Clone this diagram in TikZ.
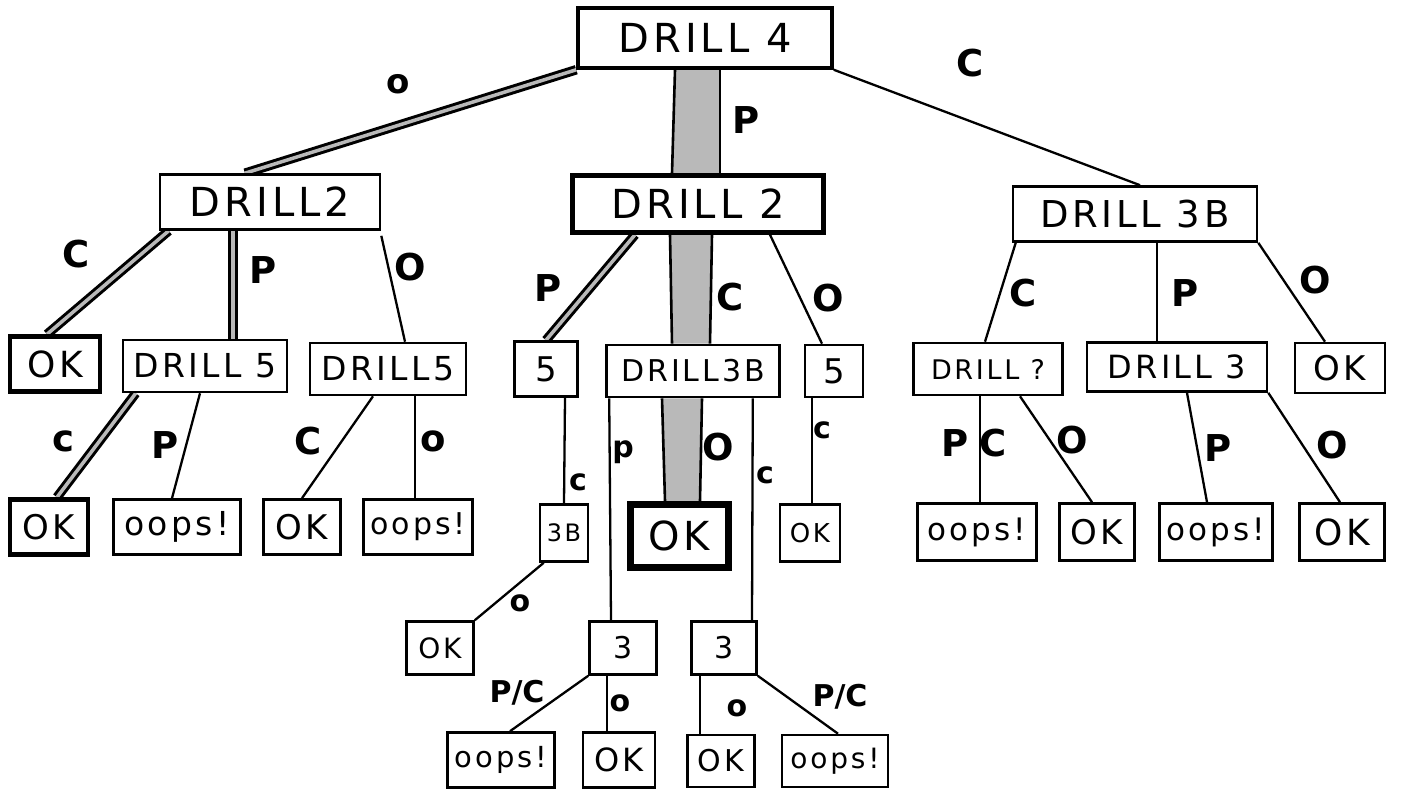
\documentclass[tikz,border=0pt]{standalone}
\usepackage{fontspec}
\newfontfamily\hand[LetterSpace=10]{DejaVu Sans}
\newfontfamily\handlab{DejaVu Sans Bold}
\usetikzlibrary{calc}
\pgfdeclarelayer{bg}
\pgfsetlayers{bg,main}

\newcommand{\fs}[1]{\fontsize{#1}{#1}\selectfont}

\begin{document}
\begin{tikzpicture}[x=1pt,y=-1pt,
  box/.style={draw, fill=white, line width=2.6pt, inner sep=0pt, font=\hand\fs{34}},
  heavy/.style={line width=4.5pt},
  lab/.style={inner sep=0pt, font=\handlab\fs{37}},
  slab/.style={inner sep=0pt, font=\handlab\fs{30}},
  thin/.style={line width=2.3pt},
  trail/.style={line width=3pt, double=gray!55, double distance=3.5pt},
  band/.style={fill=gray!55},
  bandedge/.style={line width=2.6pt},
]
\useasboundingbox (0,0) rectangle (1403,792);

% root
\node[box, line width=3.5pt, minimum width=254pt, minimum height=60pt, font=\hand\fs{40}] (d4) at (705,38) {DRILL 4};

% first level
\node[box, minimum width=220pt, minimum height=55pt, font=\hand\fs{40}] (d2l) at (270,202) {DRILL2};
\node[box, heavy, minimum width=251pt, minimum height=57pt, font=\hand\fs{40}] (d2c) at (698,204) {DRILL 2};
\node[box, minimum width=244pt, minimum height=55pt, font=\hand\fs{37}] (d3r) at (1135,214) {DRILL 3B};

% second level
\node[box, heavy, minimum width=90pt, minimum height=55pt, font=\hand\fs{36}] (ok1) at (55,364) {OK};
\node[box, minimum width=164pt, minimum height=52pt, font=\hand\fs{33}] (dr5a) at (205,366) {DRILL 5};
\node[box, minimum width=156pt, minimum height=52pt, font=\hand\fs{33}] (dr5b) at (388,369) {DRILL5};
\node[box, minimum width=63pt, minimum height=55pt] (five1) at (546,369) {5};
\node[box, minimum width=173pt, minimum height=52pt, font=\hand\fs{30}] (d3c) at (693,371) {DRILL3B};
\node[box, minimum width=58pt, minimum height=52pt] (five2) at (834,371) {5};
\node[box, minimum width=149pt, minimum height=52pt, font=\hand\fs{27}] (dq) at (988,369) {DRILL ?};
\node[box, minimum width=180pt, minimum height=49pt, font=\hand\fs{32}] (dr3) at (1177,367) {DRILL 3};
\node[box, minimum width=90pt, minimum height=50pt] (ok4) at (1340,368) {OK};

% third level
\node[box, heavy, minimum width=78pt, minimum height=55pt] (ok2) at (49,527) {OK};
\node[box, minimum width=127pt, minimum height=55pt, font=\hand\fs{33}] (oops1) at (177,527) {oops!};
\node[box, minimum width=77pt, minimum height=55pt] (ok3) at (302,527) {OK};
\node[box, minimum width=109pt, minimum height=55pt, font=\hand\fs{30}] (oops2) at (418,527) {oops!};
\node[box, minimum width=48pt, minimum height=57pt, font=\hand\fs{24}] (b3) at (564,533) {3B};
\node[box, line width=7pt, minimum width=98pt, minimum height=63pt, font=\hand\fs{40}] (okc) at (679,536) {OK};
\node[box, minimum width=60pt, minimum height=57pt, font=\hand\fs{26}] (ok5) at (810,533) {OK};
\node[box, minimum width=119pt, minimum height=57pt, font=\hand\fs{31}] (oops5) at (977,532) {oops!};
\node[box, minimum width=75pt, minimum height=57pt] (ok9) at (1097,532) {OK};
\node[box, minimum width=113pt, minimum height=57pt, font=\hand\fs{31}] (oops6) at (1216,532) {oops!};
\node[box, minimum width=85pt, minimum height=57pt, font=\hand\fs{36}] (ok10) at (1342,532) {OK};

% fourth level
\node[box, minimum width=67pt, minimum height=53pt, font=\hand\fs{28}] (ok6) at (440,648) {OK};
\node[box, minimum width=67pt, minimum height=53pt, font=\hand\fs{30}] (t3a) at (623,648) {3};
\node[box, minimum width=65pt, minimum height=53pt, font=\hand\fs{30}] (t3b) at (724,648) {3};

% fifth level
\node[box, minimum width=107pt, minimum height=55pt, font=\hand\fs{29}] (oops3) at (501,760) {oops!};
\node[box, minimum width=72pt, minimum height=55pt, font=\hand\fs{32}] (ok7) at (619,760) {OK};
\node[box, minimum width=67pt, minimum height=52pt, font=\hand\fs{30}] (ok8) at (721,761) {OK};
\node[box, minimum width=106pt, minimum height=52pt, font=\hand\fs{28}] (oops4) at (835,761) {oops!};

% branch labels
\node[lab, font=\handlab\fs{34}] (l1) at (398,84) {o};
\node[lab] (l2) at (746,120) {P};
\node[lab] (l3) at (970,63) {C};
\node[lab] (l4) at (76,254) {C};
\node[lab] (l5) at (263,270) {P};
\node[lab] (l6) at (410,267) {O};
\node[lab] (l7) at (63,441) {c};
\node[lab] (l8) at (165,445) {P};
\node[lab] (l9) at (308,441) {C};
\node[lab] (l10) at (433,441) {o};
\node[lab] (l11) at (548,288) {P};
\node[lab] (l12) at (730,297) {C};
\node[lab] (l13) at (828,298) {O};
\node[slab] (l14) at (578,482) {c};
\node[slab] (l15) at (623,452) {p};
\node[lab] (l16) at (718,447) {O};
\node[slab] (l17) at (765,475) {c};
\node[slab] (l18) at (822,430) {c};
\node[slab] (l19) at (520,603) {o};
\node[slab] (l20) at (517,693) {P/C};
\node[slab] (l21) at (620,703) {o};
\node[slab] (l22) at (737,708) {o};
\node[slab] (l23) at (840,697) {P/C};
\node[lab] (l24) at (1023,293) {C};
\node[lab] (l25) at (1185,293) {P};
\node[lab] (l26) at (1315,280) {O};
\node[lab] (l27) at (955,443) {P};
\node[lab] (l28) at (993,443) {C};
\node[lab] (l29) at (1072,440) {O};
\node[lab] (l30) at (1218,448) {P};
\node[lab] (l31) at (1332,445) {O};

\begin{pgfonlayer}{bg}
  \fill[white] (0,0) rectangle (1403,792);

  % wide shaded bands along the main path
  \fill[band] ([xshift=-30pt]d4.south) -- ([xshift=15pt]d4.south) -- ([xshift=22pt]d2c.north) -- ([xshift=-26pt]d2c.north) -- cycle;
  \draw[bandedge] ([xshift=-30pt]d4.south) -- ([xshift=-26pt]d2c.north);
  \draw[bandedge] ([xshift=15pt]d4.south) -- ([xshift=22pt]d2c.north);

  \fill[band] ([xshift=-28pt]d2c.south) -- ([xshift=14pt]d2c.south) -- ([xshift=17pt]d3c.north) -- ([xshift=-21pt]d3c.north) -- cycle;
  \draw[bandedge] ([xshift=-28pt]d2c.south) -- ([xshift=-21pt]d3c.north);
  \draw[bandedge] ([xshift=14pt]d2c.south) -- ([xshift=17pt]d3c.north);

  \fill[band] ([xshift=-31pt]d3c.south) -- ([xshift=9pt]d3c.south) -- ([xshift=21pt]okc.north) -- ([xshift=-14pt]okc.north) -- cycle;
  \draw[bandedge] ([xshift=-31pt]d3c.south) -- ([xshift=-14pt]okc.north);
  \draw[bandedge] ([xshift=9pt]d3c.south) -- ([xshift=21pt]okc.north);

  % doubled trails
  \draw[trail] (d4.south west) -- ([xshift=-25pt]d2l.north);
  \draw[trail] ([xshift=10pt]d2l.south west) -- ([xshift=-8pt]ok1.north);
  \draw[trail] ([xshift=-37pt]d2l.south) -- ([xshift=28pt]dr5a.north);
  \draw[trail] ([xshift=14pt]dr5a.south west) -- ([xshift=8pt]ok2.north);
  \draw[trail] ([xshift=-63pt]d2c.south) -- (five1.north);

  % plain branches
  \draw[thin] (d4.south east) -- ([xshift=5pt]d3r.north);
  \draw[thin] ([yshift=-5pt]d2l.south east) -- ([xshift=17pt]dr5b.north);
  \draw[thin] ([xshift=-5pt]dr5a.south) -- ([xshift=-5pt]oops1.north);
  \draw[thin] ([xshift=-15pt]dr5b.south) -- (ok3.north);
  \draw[thin] ([xshift=27pt]dr5b.south) -- ([xshift=-3pt]oops2.north);
  \draw[thin] ([xshift=72pt]d2c.south) -- ([xshift=-12pt]five2.north);
  \draw[thin] ([xshift=19pt]five1.south) -- (b3.north);
  \draw[thin] ([xshift=4pt]d3c.south west) -- ([xshift=-12pt]t3a.north);
  \draw[thin] ([xshift=-28pt]d3c.south east) -- ([xshift=28pt]t3b.north);
  \draw[thin] ([xshift=-22pt]five2.south) -- ([xshift=2pt]ok5.north);
  \draw[thin] ([xshift=5pt]b3.south west) -- (ok6.north east);
  \draw[thin] (t3a.south west) -- ([xshift=9pt]oops3.north);
  \draw[thin] ([xshift=-16pt]t3a.south) -- ([xshift=-12pt]ok7.north);
  \draw[thin] ([xshift=-24pt]t3b.south) -- ([xshift=-21pt]ok8.north);
  \draw[thin] (t3b.south east) -- ([xshift=3pt]oops4.north);
  \draw[thin] ([xshift=4pt]d3r.south west) -- ([xshift=-3pt]dq.north);
  \draw[thin] ([xshift=22pt]d3r.south) -- ([xshift=-20pt]dr3.north);
  \draw[thin] (d3r.south east) -- ([xshift=-15pt]ok4.north);
  \draw[thin] ([xshift=-8pt]dq.south) -- ([xshift=3pt]oops5.north);
  \draw[thin] ([xshift=32pt]dq.south) -- ([xshift=-5pt]ok9.north);
  \draw[thin] ([xshift=10pt]dr3.south) -- ([xshift=-9pt]oops6.north);
  \draw[thin] (dr3.south east) -- ([xshift=-2pt]ok10.north);
\end{pgfonlayer}
\end{tikzpicture}
\end{document}
